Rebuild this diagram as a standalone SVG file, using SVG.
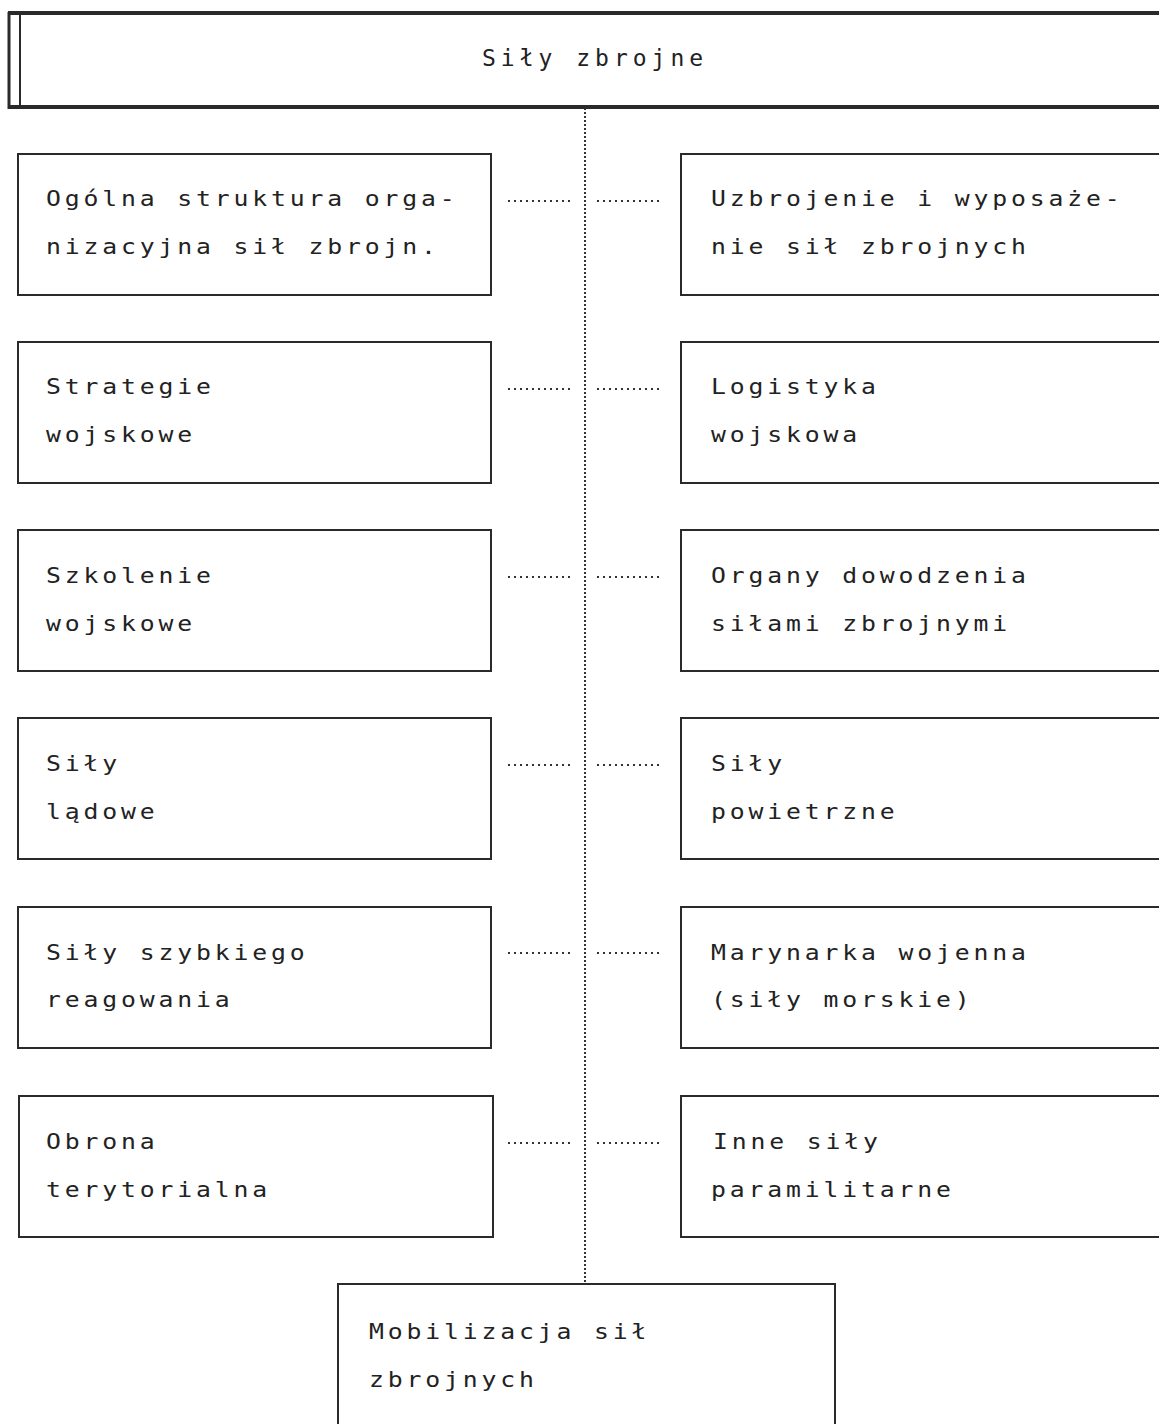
<svg xmlns="http://www.w3.org/2000/svg" width="1159" height="1424" viewBox="0 0 1159 1424">
<style>
.box{fill:#fff;stroke:#2a2a2a;stroke-width:2}
.t{font-family:"DejaVu Sans Mono","Liberation Mono",monospace;font-size:21px;letter-spacing:3.26px;fill:#222}
.ti{font-family:"DejaVu Sans Mono","Liberation Mono",monospace;font-size:23px;letter-spacing:5px;fill:#222}
.dv{stroke:#333;stroke-width:2;stroke-dasharray:2 2;fill:none}
.dh{stroke:#333;stroke-width:2;stroke-dasharray:2 4;fill:none}
</style>
<rect width="1159" height="1424" fill="#fff"/>
<g id="connectors">
<line class="dv" x1="585" y1="108" x2="585" y2="1284"/>
<line class="dh" x1="508" y1="201" x2="572" y2="201"/><line class="dh" x1="597" y1="201" x2="662" y2="201"/>
<line class="dh" x1="508" y1="389" x2="572" y2="389"/><line class="dh" x1="597" y1="389" x2="662" y2="389"/>
<line class="dh" x1="508" y1="577" x2="572" y2="577"/><line class="dh" x1="597" y1="577" x2="662" y2="577"/>
<line class="dh" x1="508" y1="765" x2="572" y2="765"/><line class="dh" x1="597" y1="765" x2="662" y2="765"/>
<line class="dh" x1="508" y1="953" x2="572" y2="953"/><line class="dh" x1="597" y1="953" x2="662" y2="953"/>
<line class="dh" x1="508" y1="1143" x2="572" y2="1143"/><line class="dh" x1="597" y1="1143" x2="662" y2="1143"/>
</g>
<g id="top">
<rect x="20" y="14" width="1145" height="93" fill="#fff" stroke="none"/>
<line x1="8" y1="13" x2="1159" y2="13" stroke="#2a2a2a" stroke-width="4"/>
<line x1="8" y1="107" x2="1159" y2="107" stroke="#2a2a2a" stroke-width="4"/>
<line x1="9" y1="12" x2="9" y2="109" stroke="#2a2a2a" stroke-width="3"/>
<line x1="20" y1="13" x2="20" y2="107" stroke="#2a2a2a" stroke-width="2"/>
<text class="ti" x="482" y="66">Siły zbrojne</text>
</g>
<g id="n1"><rect class="box" x="18" y="154" width="473" height="141"/><g transform="scale(1.18,1)"><text class="t" x="38.98" y="206">Ogólna struktura orga-</text><text class="t" x="38.98" y="254">nizacyjna sił zbrojn.</text></g></g>
<g id="n2"><rect class="box" x="681" y="154" width="490" height="141"/><g transform="scale(1.18,1)"><text class="t" x="602.54" y="206">Uzbrojenie i wyposaże-</text><text class="t" x="602.54" y="254">nie sił zbrojnych</text></g></g>
<g id="n3"><rect class="box" x="18" y="342" width="473" height="141"/><g transform="scale(1.18,1)"><text class="t" x="38.98" y="394">Strategie</text><text class="t" x="38.98" y="442">wojskowe</text></g></g>
<g id="n4"><rect class="box" x="681" y="342" width="490" height="141"/><g transform="scale(1.18,1)"><text class="t" x="602.54" y="394">Logistyka</text><text class="t" x="602.54" y="442">wojskowa</text></g></g>
<g id="n5"><rect class="box" x="18" y="530" width="473" height="141"/><g transform="scale(1.18,1)"><text class="t" x="38.98" y="583">Szkolenie</text><text class="t" x="38.98" y="631">wojskowe</text></g></g>
<g id="n6"><rect class="box" x="681" y="530" width="490" height="141"/><g transform="scale(1.18,1)"><text class="t" x="602.54" y="583">Organy dowodzenia</text><text class="t" x="602.54" y="631">siłami zbrojnymi</text></g></g>
<g id="n7"><rect class="box" x="18" y="718" width="473" height="141"/><g transform="scale(1.18,1)"><text class="t" x="38.98" y="771">Siły</text><text class="t" x="38.98" y="819">lądowe</text></g></g>
<g id="n8"><rect class="box" x="681" y="718" width="490" height="141"/><g transform="scale(1.18,1)"><text class="t" x="602.54" y="771">Siły</text><text class="t" x="602.54" y="819">powietrzne</text></g></g>
<g id="n9"><rect class="box" x="18" y="907" width="473" height="141"/><g transform="scale(1.18,1)"><text class="t" x="38.98" y="960">Siły szybkiego</text><text class="t" x="38.98" y="1007">reagowania</text></g></g>
<g id="n10"><rect class="box" x="681" y="907" width="490" height="141"/><g transform="scale(1.18,1)"><text class="t" x="602.54" y="960">Marynarka wojenna</text><text class="t" x="602.54" y="1007">(siły morskie)</text></g></g>
<g id="n11"><rect class="box" x="19" y="1096" width="474" height="141"/><g transform="scale(1.18,1)"><text class="t" x="38.98" y="1149">Obrona</text><text class="t" x="38.98" y="1197">terytorialna</text></g></g>
<g id="n12"><rect class="box" x="681" y="1096" width="490" height="141"/><g transform="scale(1.18,1)"><text class="t" x="604.24" y="1149">Inne siły</text><text class="t" x="602.54" y="1197">paramilitarne</text></g></g>
<g id="n13"><rect class="box" x="338" y="1284" width="497" height="160"/><g transform="scale(1.18,1)"><text class="t" x="312.71" y="1339">Mobilizacja sił</text><text class="t" x="312.71" y="1387">zbrojnych</text></g></g>
</svg>
